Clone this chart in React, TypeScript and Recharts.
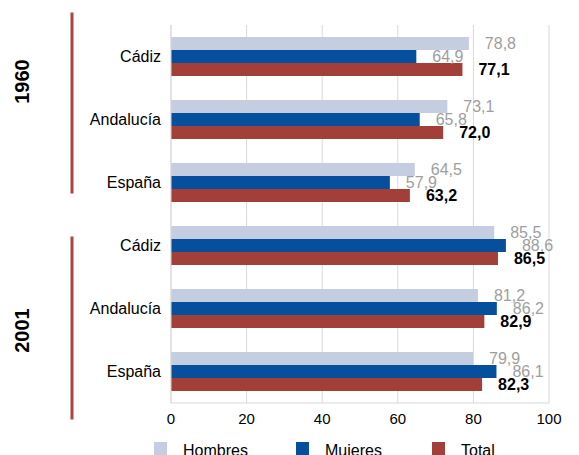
import React from "react";
import { BarChart, Bar, XAxis, YAxis, CartesianGrid, LabelList } from "recharts";

const regions = ["Cádiz", "Andalucía", "España", "Cádiz", "Andalucía", "España"];
const years = ["1960", "1960", "1960", "2001", "2001", "2001"];
const hombres = [78.8, 73.1, 64.5, 85.5, 81.2, 79.9];
const mujeres = [64.9, 65.8, 57.9, 88.6, 86.2, 86.1];
const total = [77.1, 72.0, 63.2, 86.5, 82.9, 82.3];
const xTicks = [0, 20, 40, 60, 80, 100];

const series = [
  { key: "hombres", name: "Hombres", color: "#c5cde0" },
  { key: "mujeres", name: "Mujeres", color: "#064f9c" },
  { key: "total", name: "Total", color: "#a13f38" },
];

const FONT = "'Liberation Sans', Arial, Helvetica, sans-serif";
const RED_LINE = "#a8463f";

const data = regions.map((r, i) => ({
  id: `${years[i]}-${r}`,
  region: r,
  year: years[i],
  hombres: hombres[i],
  mujeres: mujeres[i],
  total: total[i],
}));

const fmt = (v: any) => Number(v).toFixed(1).replace(".", ",");

// category tick + group bracket (year label and red line) on the middle row of each group
function CategoryTick(props: any) {
  const { x, y, payload } = props;
  const idx = payload?.index ?? props.index;
  const row = data[idx];
  if (!row) return null;
  let deco = null;
  if (idx === 1 || idx === 4) {
    const first = idx === 1;
    const top = first ? y - 107 : y - 72;
    const bottom = first ? y + 74 : y + 111;
    const labelY = first ? y - 38 : y + 22;
    deco = (
      <g>
        <line x1={x - 89} x2={x - 89} y1={top} y2={bottom} stroke={RED_LINE} strokeWidth={3} />
        <text
          x={0}
          y={0}
          transform={`translate(${x - 139},${labelY}) rotate(-90)`}
          textAnchor="middle"
          dominantBaseline="central"
          fontSize={20}
          fontWeight="bold"
          fill="#000"
          fontFamily={FONT}
        >
          {row.year}
        </text>
      </g>
    );
  }
  return (
    <g>
      <text x={x} y={y} textAnchor="end" dominantBaseline="central" fontSize={16} fill="#000" fontFamily={FONT}>
        {row.region}
      </text>
      {deco}
    </g>
  );
}

export default function App() {
  return (
    <div style={{ position: "absolute", left: 0, top: 0, width: 579, height: 455, background: "#fff", fontFamily: FONT, overflow: "hidden" }}>
      <BarChart
        width={579}
        height={455}
        data={data}
        layout="vertical"
        margin={{ top: 25, right: 30, bottom: 22, left: 0 }}
        barCategoryGap={12}
        barGap={0}
      >
        <CartesianGrid horizontal={false} stroke="#d9d9d9" />
        <XAxis
          type="number"
          domain={[0, 100]}
          ticks={xTicks}
          height={30}
          axisLine={{ stroke: "#d9d9d9" }}
          tickLine={false}
          tickSize={0}
          tickMargin={10}
          tick={{ fontSize: 15, fill: "#000", fontFamily: FONT }}
        />
        <YAxis
          type="category"
          dataKey="id"
          width={171}
          axisLine={{ stroke: "#d9d9d9" }}
          tickLine={false}
          tickSize={0}
          tickMargin={10}
          interval={0}
          tick={<CategoryTick />}
        />
        {series.map((s) => (
          <Bar key={s.key} dataKey={s.key} name={s.name} fill={s.color} barSize={13} isAnimationActive={false}>
            <LabelList
              dataKey={s.key}
              position="right"
              offset={16}
              formatter={fmt}
              fontSize={16}
              fontFamily={FONT}
              fill={s.key === "total" ? "#000" : "#9e9e9e"}
              fontWeight={s.key === "total" ? "bold" : "normal"}
            />
          </Bar>
        ))}
      </BarChart>
      {series.map((s, i) => (
        <div
          key={s.key}
          style={{
            position: "absolute",
            top: 442,
            left: [154, 296, 432][i],
            display: "flex",
            alignItems: "flex-start",
            fontSize: 16,
            lineHeight: "16px",
            color: "#000",
          }}
        >
          <span style={{ display: "inline-block", width: 13, height: 14, background: s.color, marginRight: 16 }} />
          <span style={{ marginTop: 1 }}>{s.name}</span>
        </div>
      ))}
    </div>
  );
}
